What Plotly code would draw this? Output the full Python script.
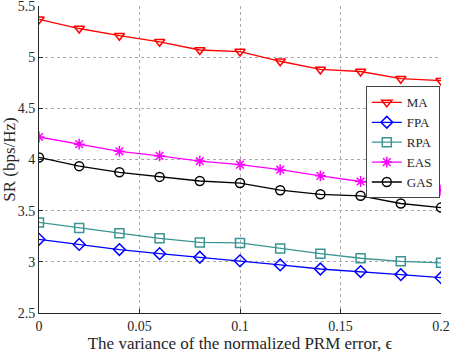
import plotly.graph_objects as go

eps = [0, 0.02, 0.04, 0.06, 0.08, 0.1, 0.12, 0.14, 0.16, 0.18, 0.2]
ma = [5.37, 5.28, 5.21, 5.15, 5.07, 5.055, 4.96, 4.88, 4.86, 4.79, 4.77]
fpa = [3.22, 3.17, 3.12, 3.08, 3.045, 3.01, 2.97, 2.93, 2.905, 2.875, 2.845]
rpa = [3.385, 3.33, 3.28, 3.23, 3.19, 3.185, 3.13, 3.08, 3.035, 3.005, 2.99]
eas = [4.22, 4.15, 4.08, 4.035, 3.985, 3.95, 3.9, 3.84, 3.785, 3.74, 3.70]
gas = [4.02, 3.935, 3.875, 3.83, 3.79, 3.77, 3.70, 3.66, 3.645, 3.57, 3.53]

series = [
    ("MA", ma, "red", "triangle-down-open"),
    ("FPA", fpa, "blue", "diamond-open"),
    ("RPA", rpa, "#3a9494", "square-open"),
    ("EAS", eas, "magenta", "asterisk-open"),
    ("GAS", gas, "black", "circle-open"),
]

fig = go.Figure()
for name, ys, col, sym in series:
    fig.add_trace(go.Scatter(x=eps, y=ys, name=name, mode="lines+markers",
                             line=dict(color=col, width=1.3),
                             marker=dict(symbol=sym, size=9, color=col,
                                         line=dict(color=col, width=1.5))))

font = dict(family="Liberation Serif", size=14, color="#262626")
fig.update_layout(
    width=450, height=353,
    margin=dict(l=39, r=9, t=6, b=40),
    paper_bgcolor="white", plot_bgcolor="white",
    font=font, showlegend=True,
    legend=dict(x=0.997, y=0.738, xanchor="right", yanchor="top",
                bgcolor="white", bordercolor="#444", borderwidth=1,
                font=dict(size=13), tracegroupgap=0, itemwidth=30),
)
fig.update_xaxes(range=[0, 0.2], tickvals=[0, 0.05, 0.1, 0.15, 0.2],
                 ticktext=["0", "0.05", "0.1", "0.15", "0.2"],
                 showgrid=True, gridcolor="#aaa", griddash="dot", gridwidth=1,
                 showline=True, linecolor="#262626", linewidth=1, zeroline=False,
                 ticks="inside", ticklen=4, tickcolor="#262626", automargin=False,
                 ticklabeloverflow="allow",
                 title=dict(text="The variance of the normalized PRM error, ϵ", standoff=2))
fig.update_yaxes(range=[2.5, 5.5], tickvals=[2.5, 3, 3.5, 4, 4.5, 5, 5.5],
                 ticktext=["2.5", "3", "3.5", "4", "4.5", "5", "5.5"],
                 showgrid=True, gridcolor="#aaa", griddash="dot", gridwidth=1,
                 showline=True, linecolor="#262626", linewidth=1, zeroline=False,
                 ticks="inside", ticklen=4, tickcolor="#262626", automargin=False,
                 ticklabeloverflow="allow",
                 title=dict(text="SR (bps/Hz)", standoff=2))
# default page body has an 8px margin; drop it so the figure sits at the corner
fig.write_html("out.html", config={"displayModeBar": False},
               post_script="document.body.style.margin='0';")
